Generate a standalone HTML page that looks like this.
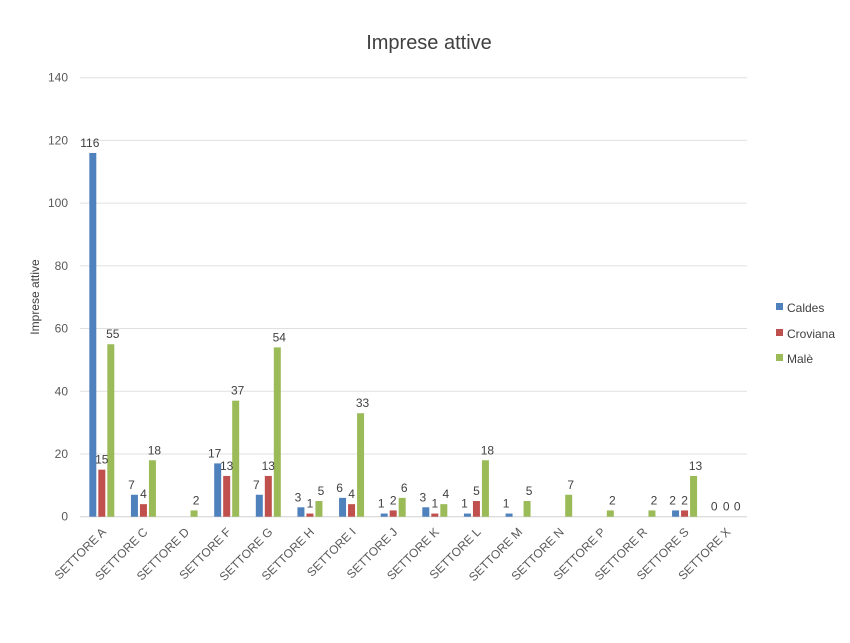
<!DOCTYPE html>
<html><head><meta charset="utf-8"><style>
body{margin:0;background:#fff;font-family:"Liberation Sans",sans-serif}
</style></head><body>
<svg id="chart" width="850" height="638" xmlns="http://www.w3.org/2000/svg" font-family="Liberation Sans, sans-serif">
<rect width="850" height="638" fill="#fff"/>
<text x="429" y="49" text-anchor="middle" font-size="20" fill="#404040">Imprese attive</text>
<text transform="translate(39,297) rotate(-90)" text-anchor="middle" font-size="12" fill="#404040">Imprese attive</text>
<g id="grid"></g><g id="bars"></g><g id="labels"></g>
<g font-size="12" fill="#404040">
<rect x="776" y="303" width="7" height="7" fill="#4f81bd"/><text x="787" y="312">Caldes</text>
<rect x="776" y="329" width="7" height="7" fill="#c0504d"/><text x="787" y="338">Croviana</text>
<rect x="776" y="354" width="7" height="7" fill="#9bbb59"/><text x="787" y="363">Malè</text>
</g>
</svg>
<script>
const categories=["SETTORE A","SETTORE C","SETTORE D","SETTORE F","SETTORE G","SETTORE H","SETTORE I","SETTORE J","SETTORE K","SETTORE L","SETTORE M","SETTORE N","SETTORE P","SETTORE R","SETTORE S","SETTORE X"];
const caldes=[116,7,null,17,7,3,6,1,3,1,1,null,null,null,2,0];
const croviana=[15,4,null,13,13,1,4,2,1,5,null,null,null,null,2,0];
const male=[55,18,2,37,54,5,33,6,4,18,5,7,2,2,13,0];
const yTicks=[0,20,40,60,80,100,120,140];
const seriesNames=["caldes","croviana","male"];
const colors=["#4f81bd","#c0504d","#9bbb59"];
const ns="http://www.w3.org/2000/svg";
const L=81,R=747,Y0=516.7,Ytop=77.7,maxV=140;
const band=(R-L)/categories.length;
const y=v=>Y0-(v/maxV)*(Y0-Ytop);
const xc=i=>L+band*(i+0.5);
function mk(t,a,p){const e=document.createElementNS(ns,t);for(const k in a)e.setAttribute(k,a[k]);p.appendChild(e);return e;}
const grid=document.getElementById('grid'),bars=document.getElementById('bars'),labels=document.getElementById('labels');
yTicks.forEach(t=>{
 const l=mk('line',{x1:L-1,x2:R,y1:y(t),y2:y(t),stroke:t===0?'#d0d0d0':'#e0e0e0','stroke-width':1},grid);
 
 
 const tx=mk('text',{x:L-13,y:y(t)+4,'text-anchor':'end','font-size':12,fill:'#595959'},grid);
 tx.textContent=t;
 
 
});
const all=[caldes,croviana,male];
const bw=7,gap=2;
categories.forEach((c,i)=>{
 all.forEach((s,k)=>{
  const v=s[i]; if(v===null)return;
  const x=xc(i)+(k-1)*(bw+gap)-bw/2;
  const r=mk('rect',{x:x,y:y(v),width:bw,height:Y0-y(v),fill:colors[k]},bars);
  
  
  const t=mk('text',{x:x+bw/2+(k===0?-3:k===2?2:0),y:y(v)-6,'text-anchor':'middle','font-size':12,fill:'#404040'},labels);
  t.textContent=v;
  
  
 });
 const lx=xc(i)+5,ly=Y0+16;
 const t=mk('text',{x:lx,y:ly,'text-anchor':'end','font-size':12,fill:'#595959',transform:`rotate(-45 ${lx} ${ly})`},labels);
 t.textContent=c;
 
 
});
</script>
</body></html>
